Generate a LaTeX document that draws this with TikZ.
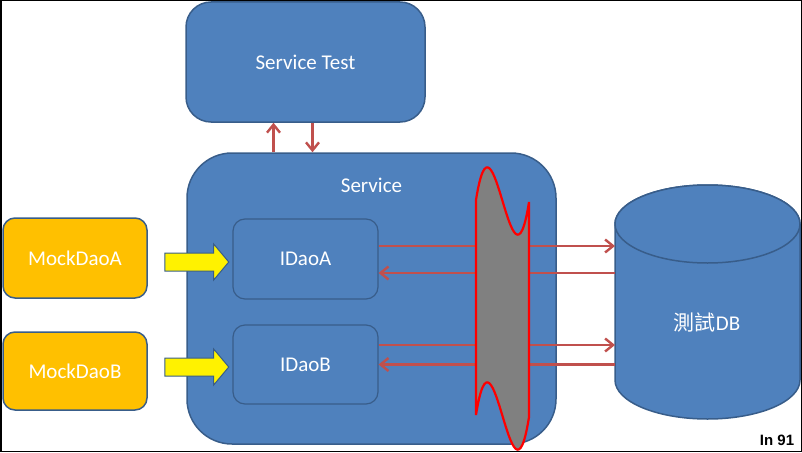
\documentclass[tikz,border=0pt]{standalone}
\usepackage{fontspec}
\setmainfont{Carlito}
\newfontfamily\cjkfont{Noto Sans CJK TC}
\newfontfamily\markfont{Liberation Sans}
\usetikzlibrary{arrows.meta,shapes.arrows}
\definecolor{boxblue}{HTML}{4F81BD}
\definecolor{edgeblue}{HTML}{385D8A}
\definecolor{mockorange}{HTML}{FFC000}
\definecolor{linkred}{HTML}{C0504D}
\tikzset{
  boxfont/.style={font=\fontsize{21}{25}\selectfont},
  bluebox/.style={draw=edgeblue, fill=boxblue, line width=1.5pt, text=white, boxfont},
  mockbox/.style={draw=edgeblue, fill=mockorange, line width=1.5pt, rounded corners=12pt,
    text=white, minimum width=144pt, boxfont},
  daobox/.style={draw=edgeblue, fill=boxblue, line width=1.2pt, rounded corners=12pt,
    text=white, minimum width=145pt, boxfont},
  pushbox/.style={single arrow, draw=edgeblue, fill=yellow, line width=1pt, inner sep=8.5pt,
    single arrow head extend=9pt, single arrow tip angle=100, minimum height=64pt},
  link/.style={draw=linkred, line width=2.4pt, -{Straight Barb[length=8pt,width=13pt]}},
  dbshape/.style={draw=edgeblue, fill=boxblue, line width=1.5pt}
}
\begin{document}
\begin{tikzpicture}[x=1pt,y=-1pt]
    \useasboundingbox (0,0) rectangle (802,452);
    \node[bluebox, rounded corners=25pt, minimum width=239pt, minimum height=120pt] (svctest) at (305.5,62) {Service Test};
    \node[bluebox, rounded corners=45pt, minimum width=369pt, minimum height=291pt,
      label={[anchor=center, yshift=-33pt, text=white, boxfont]north:Service}] (service) at (371.5,298.5) {};
    \draw[link] ([xshift=-98pt]service.north) -- ([xshift=-98pt]service.north |- svctest.south);
    \draw[link] ([xshift=-59pt]service.north |- svctest.south) -- ([xshift=-59pt]service.north);
    \node[daobox, minimum height=80pt] (idaoA) at (305.5,259) {IDaoA};
    \node[daobox, minimum height=79pt] (idaoB) at (305.5,364.5) {IDaoB};
    \node[mockbox, minimum height=80pt] (mockA) at (75,258) {MockDaoA};
    \node[mockbox, minimum height=78pt] (mockB) at (75,371) {MockDaoB};
    \node[pushbox] (pushA) at (193,262) {};
    \node[pushbox] (pushB) at (193,367) {};
    \draw[dbshape] (615,224) -- (615,380) arc[start angle=180, end angle=360, x radius=92.5pt, y radius=39pt]
      -- (800,224) arc[start angle=0, end angle=180, x radius=92.5pt, y radius=39pt] -- cycle;
    \draw[dbshape] (707.5,224) ellipse[x radius=92.5pt, y radius=39pt];
    \node[text=white, boxfont] (db) at (707,323) {{\cjkfont 測試}DB};
    \coordinate (dbwall) at (615,300);
    \draw[link] ([yshift=13pt]idaoA.east) -- ([yshift=13pt]idaoA.east -| dbwall);
    \draw[link] ([yshift=-14pt]idaoA.east -| dbwall) -- ([yshift=-14pt]idaoA.east);
    \draw[link] ([yshift=19.5pt]idaoB.east) -- ([yshift=19.5pt]idaoB.east -| dbwall);
    \draw[link] (idaoB.east -| dbwall) -- (idaoB.east);
    \draw[draw=red, fill=gray, line width=2.2pt] (476,200) .. controls (494,86) and (511,316) .. (529,202)
      -- (529,417) .. controls (511,531) and (494,301) .. (476,415) -- cycle;
    \node[font=\markfont\bfseries\fontsize{15}{18}\selectfont] (mark) at (777,440) {In 91};
    \draw[line width=1.5pt] (0.75,0.75) rectangle (801.25,451.25);
  \end{tikzpicture}
\end{document}
